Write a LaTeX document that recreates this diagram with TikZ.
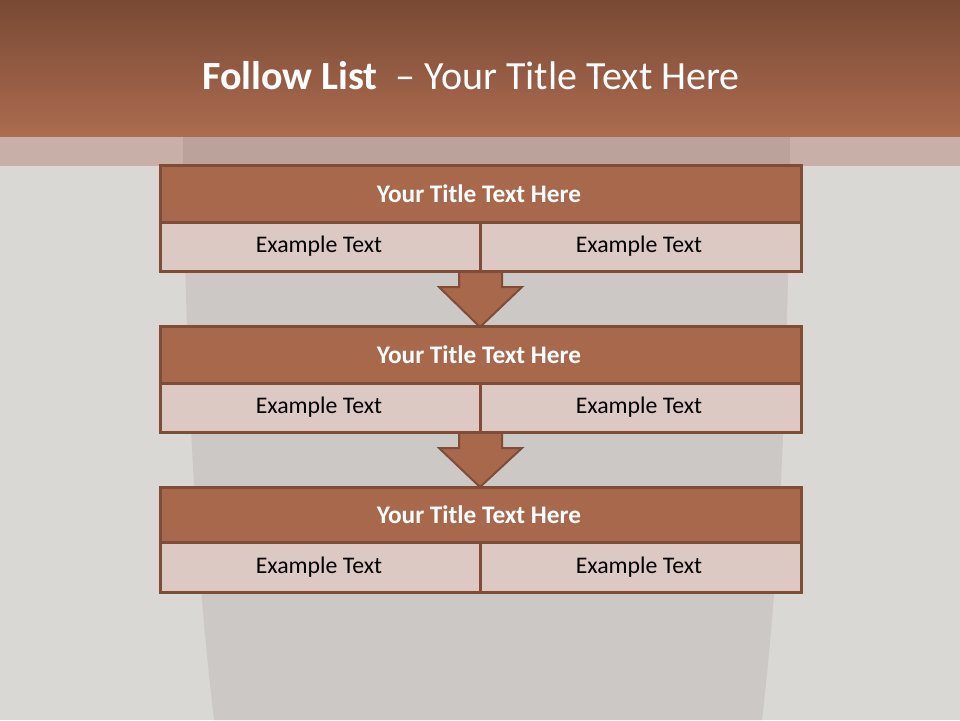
\documentclass[tikz,border=0pt]{standalone}
\usepackage{fontspec}
\setmainfont{Carlito}
\begin{document}
\begin{tikzpicture}[x=1pt,y=-1pt,
  bordc/.style={draw=boxline,line width=3pt},
  titlecell/.style={bordc,fill=titlefill},
  bodycell/.style={bordc,fill=bodyfill},
  titletxt/.style={text=white,font=\fontsize{25.3}{30}\selectfont\bfseries},
  bodytxt/.style={text=black,font=\fontsize{23.8}{28}\selectfont},
  flowarrow/.style={draw=boxline,line width=2pt,fill=titlefill,line join=miter}]
\definecolor{boxline}{HTML}{7E4C37}
\definecolor{titlefill}{HTML}{A8684B}
\definecolor{bodyfill}{HTML}{DDC9C4}
\definecolor{bgout}{HTML}{DAD8D5}
\definecolor{bgin}{HTML}{CBC8C5}
\definecolor{headtop}{HTML}{794934}
\definecolor{headbot}{HTML}{AC6C50}
\definecolor{bandin}{HTML}{BBA29A}
\definecolor{bandout}{HTML}{C8AFA8}
\useasboundingbox (0,0) rectangle (960,720);
% background
\fill[bgout] (0,0) rectangle (960,720);
\fill[bgin] (183,166) .. controls (188,450) and (200,600) .. (214,720) -- (762,720) .. controls (776,600) and (786,450) .. (790,166) -- cycle;
% header
\shade[top color=headtop,bottom color=headbot] (0,0) rectangle (960,137);
\fill[bandout] (0,137) rectangle (960,166);
\fill[bandin] (183,137) rectangle (790,166);
\node[text=white,font=\fontsize{40}{46}\selectfont] (title) at (471,76) {\textbf{Follow List}\ \ – Your Title Text Here};
% arrows
\draw[flowarrow] (459,271) -- (459,287) -- (439,287) -- (480,327) -- (522,287) -- (502,287) -- (502,271);
\draw[flowarrow] (459,432) -- (459,448) -- (439,448) -- (480,487) -- (522,448) -- (502,448) -- (502,432);
% boxes
\foreach \i/\t/\m/\b in {1/165/222/271, 2/326/383/432, 3/487/542/592}{
  \draw[titlecell] (160,\t) rectangle (801,\m);
  \draw[bodycell] (160,\m) rectangle (480,\b);
  \draw[bodycell] (480,\m) rectangle (801,\b);
  \node[titletxt] (t\i) at (479,{(\t+\m)/2}) {Your Title Text Here};
  \node[bodytxt] (l\i) at (319,{(\m+\b)/2}) {Example Text};
  \node[bodytxt] (r\i) at (639,{(\m+\b)/2}) {Example Text};
}
\end{tikzpicture}
\end{document}
